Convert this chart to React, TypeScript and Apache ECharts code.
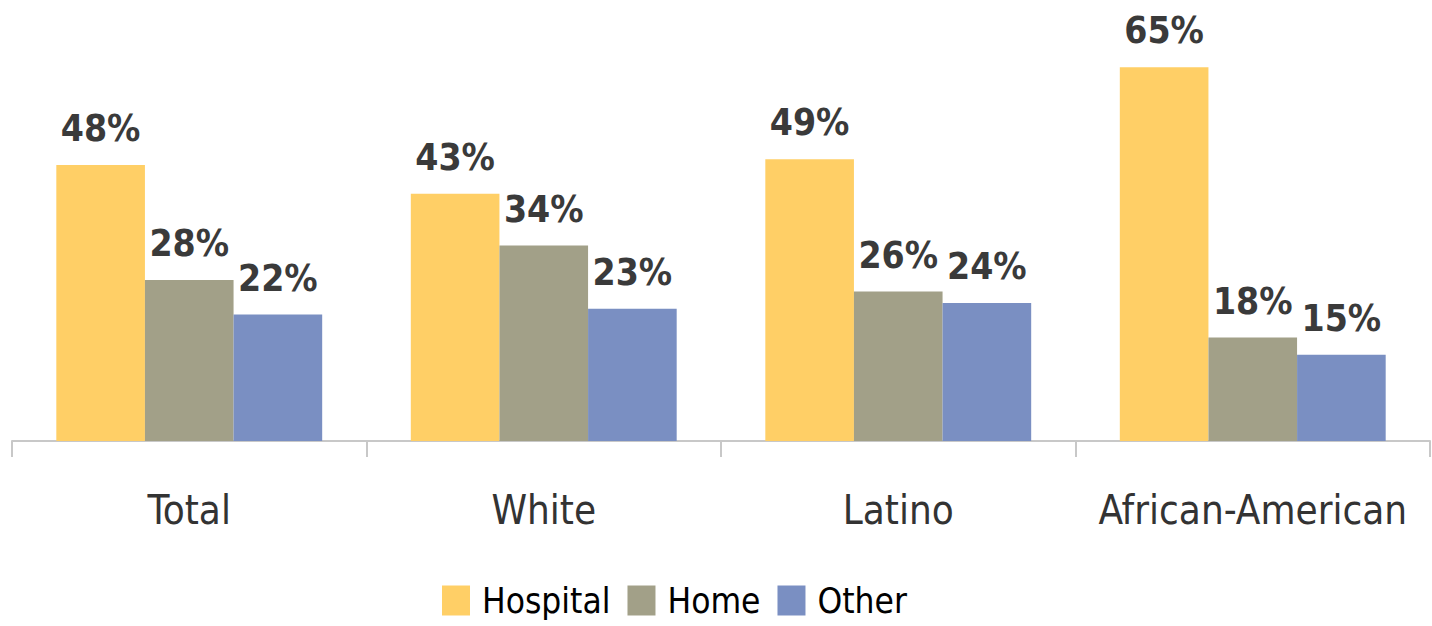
import React, { useEffect, useRef } from "react";
import * as echarts from "echarts";

const categories = ["Total", "White", "Latino", "African-American"];
const hospital = [48, 43, 49, 65];
const home = [28, 34, 26, 18];
const other = [22, 23, 24, 15];
const seriesNames = ["Hospital", "Home", "Other"];
const colors = ["#FFCF66", "#A2A088", "#7A8FC2"];

const FONT = "'DejaVu Sans Condensed', 'Liberation Sans Narrow', sans-serif";

export default function App() {
  const ref = useRef<HTMLDivElement>(null);
  useEffect(() => {
    if (!ref.current) return;
    const chart = echarts.init(ref.current, undefined, { renderer: "svg" });
    const data = [hospital, home, other];
    chart.setOption({
      animation: false,
      grid: { left: 12, right: 2, top: 38.5, bottom: 626 - 441 },
      legend: {
        top: 578,
        left: 437,
        itemWidth: 28,
        itemHeight: 30,
        itemGap: 17,
        icon: "rect",
        textStyle: { fontFamily: FONT, fontSize: 35, color: "#000", padding: [0, 0, 0, 7] },
        data: seriesNames,
      },
      xAxis: {
        type: "category",
        data: categories,
        axisLine: { lineStyle: { color: "#C8C8C8", width: 2 } },
        axisTick: { show: true, length: 16, lineStyle: { color: "#C8C8C8", width: 2 } },
        axisLabel: { interval: 0, fontFamily: FONT, fontSize: 40, color: "#333", margin: 49 },
      },
      yAxis: {
        type: "value",
        min: 0,
        max: 70,
        show: false,
        splitLine: { show: false },
      },
      series: seriesNames.map((name, i) => ({
        name,
        type: "bar",
        data: data[i],
        barGap: "0%",
        barCategoryGap: "25%",
        itemStyle: { color: colors[i] },
        label: {
          show: true,
          position: "top",
          distance: 18,
          formatter: "{c}%",
          fontFamily: FONT,
          fontWeight: "bold",
          fontSize: 37,
          color: "#3A3A3A",
        },
      })),
    });
    return () => chart.dispose();
  }, []);
  return <div ref={ref} style={{ width: 1432, height: 626, position: "absolute", left: 0, top: 0 }} />;
}
